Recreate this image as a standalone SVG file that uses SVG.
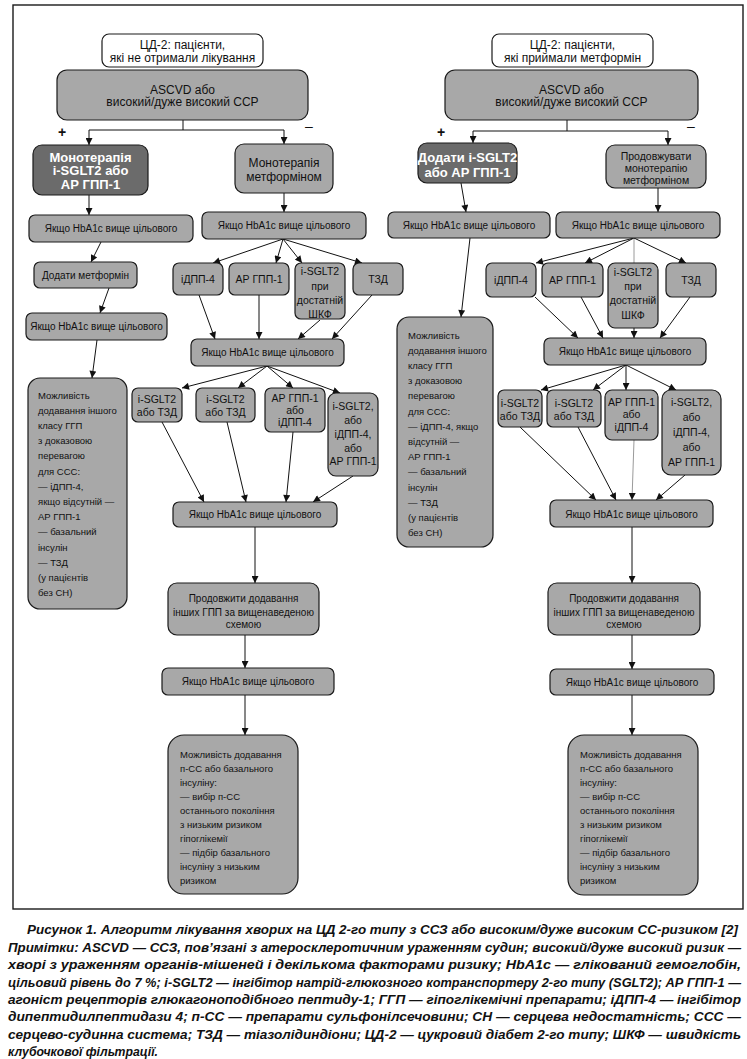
<svg xmlns="http://www.w3.org/2000/svg" width="747" height="1059" viewBox="0 0 747 1059">
<defs>
<marker id="ah" viewBox="0 0 10 10" refX="10" refY="5" markerWidth="8" markerHeight="7" markerUnits="userSpaceOnUse" orient="auto"><path d="M0,0 L10,5 L0,10 z" fill="#111"/></marker>
</defs>
<style>
.n{fill:#a8a8a8;stroke:#1a1a1a;stroke-width:1.2}
.w{fill:#fff;stroke:#1a1a1a;stroke-width:1.2}
.d{fill:#6b6b6b;stroke:#1a1a1a;stroke-width:1.2}
text{font-family:"Liberation Sans",Arial,sans-serif;fill:#111}
.t{font-size:10px;text-anchor:middle}
.s{font-size:10.5px;text-anchor:middle}
.l{font-size:12px;text-anchor:middle}
.m{font-size:10.5px;text-anchor:middle}
.b{font-size:13px;font-weight:bold;fill:#fff;text-anchor:middle}
.p{font-size:9.5px}
.c line{stroke:#111;stroke-width:1;marker-end:url(#ah)}
.c line.na{marker-end:none}
.c line.g{stroke:#9a9a9a}
.cap{font-family:"Liberation Sans Narrow","Liberation Sans",Arial,sans-serif;font-size:12px;font-weight:bold;font-style:italic}
</style>
<rect x="0" y="0" width="747" height="1059" fill="#fff"/>
<rect x="13" y="5" width="730" height="904" fill="none" stroke="#1a1a1a" stroke-width="1.4"/>

<g class="c">
<line class="na" x1="183" y1="120" x2="183" y2="130"/>
<line class="na" x1="89" y1="130" x2="284" y2="130"/>
<line x1="89" y1="130" x2="89" y2="145"/>
<line x1="284" y1="130" x2="284" y2="144"/>
<line x1="89" y1="195" x2="89" y2="215"/>
<line x1="284" y1="193" x2="284" y2="212"/>
<line x1="101" y1="242" x2="91" y2="262"/>
<line x1="109" y1="288" x2="100" y2="313"/>
<line x1="97" y1="340" x2="92" y2="378"/>
<line x1="283" y1="239" x2="213" y2="263"/>
<line x1="283" y1="239" x2="276" y2="263"/>
<line x1="283" y1="239" x2="302" y2="263"/>
<line x1="283" y1="239" x2="362" y2="263"/>
<line x1="199" y1="295" x2="215" y2="339"/>
<line x1="259" y1="295" x2="259" y2="339"/>
<line x1="320" y1="320" x2="298" y2="339"/>
<line x1="372" y1="295" x2="332" y2="339"/>
<line x1="267" y1="366" x2="182" y2="388"/>
<line x1="267" y1="366" x2="238" y2="388"/>
<line x1="267" y1="366" x2="293" y2="388"/>
<line x1="267" y1="366" x2="340" y2="393"/>
<line x1="162" y1="422" x2="204" y2="502"/>
<line x1="227" y1="422" x2="246" y2="502"/>
<line x1="293" y1="432" x2="286" y2="502"/>
<line x1="353" y1="476" x2="313" y2="502"/>
<line x1="255" y1="527" x2="255" y2="583"/>
<line x1="245" y1="635" x2="245" y2="668"/>
<line x1="245" y1="695" x2="245" y2="735"/>

<line class="na" x1="567" y1="120" x2="567" y2="131"/>
<line class="na" x1="473" y1="131" x2="668" y2="131"/>
<line x1="473" y1="131" x2="473" y2="143"/>
<line x1="668" y1="131" x2="668" y2="145"/>
<line x1="461" y1="183" x2="466" y2="212"/>
<line x1="658" y1="188" x2="658" y2="212"/>
<line x1="470" y1="238" x2="461" y2="317"/>
<line x1="634" y1="238" x2="536" y2="263"/>
<line x1="634" y1="238" x2="585" y2="263"/>
<line class="na g" x1="634" y1="238" x2="634" y2="263"/>
<line x1="634" y1="238" x2="686" y2="263"/>
<line x1="535" y1="297" x2="578" y2="338"/>
<line x1="581" y1="297" x2="603" y2="338"/>
<line x1="634" y1="328" x2="634" y2="338"/>
<line x1="690" y1="297" x2="660" y2="338"/>
<line x1="626" y1="365" x2="541" y2="390"/>
<line x1="626" y1="365" x2="593" y2="390"/>
<line x1="626" y1="365" x2="626" y2="390"/>
<line x1="626" y1="365" x2="676" y2="390"/>
<line x1="520" y1="427" x2="596" y2="500"/>
<line x1="578" y1="427" x2="616" y2="500"/>
<line class="g" x1="634" y1="440" x2="632" y2="500"/>
<line x1="685" y1="475" x2="656" y2="500"/>
<line x1="632" y1="527" x2="632" y2="583"/>
<line x1="632" y1="635" x2="632" y2="669"/>
<line x1="632" y1="695" x2="632" y2="735"/>
</g>

<g id="signs">
<text x="62" y="137" font-size="14" font-weight="bold" text-anchor="middle">+</text>
<text x="309" y="131" font-size="14" text-anchor="middle">–</text>
<text x="441" y="137" font-size="14" font-weight="bold" text-anchor="middle">+</text>
<text x="691" y="131" font-size="14" text-anchor="middle">–</text>
</g>

<!-- Left algorithm -->
<g id="L_start"><rect class="w" x="102" y="34" width="161" height="33" rx="7"/>
<text class="l" x="182.5" y="49">ЦД-2: пацієнти,</text>
<text class="l" x="182.5" y="61.5">які не отримали лікування</text></g>
<g id="L_ascvd"><rect class="n" x="57" y="70" width="251" height="50" rx="10"/>
<text class="l" x="182.5" y="94">ASCVD або</text>
<text class="l" x="182.5" y="106">високий/дуже високий ССР</text></g>
<g id="L_mono"><rect class="d" x="33" y="145" width="115" height="50" rx="9"/>
<text class="b" x="90.5" y="161.5">Монотерапія</text>
<text class="b" x="90.5" y="175">i-SGLT2 або</text>
<text class="b" x="90.5" y="188.5">АР ГПП-1</text></g>
<g id="L_metf"><rect class="n" x="235" y="144" width="98" height="49" rx="9"/>
<text class="l" x="284" y="167">Монотерапія</text>
<text class="l" x="284" y="180.5">метформіном</text></g>
<g id="L_y1"><rect class="n" x="29" y="215" width="164" height="27" rx="6"/>
<text class="t" x="111" y="232">Якщо HbA1c вище цільового</text></g>
<g id="L_y2"><rect class="n" x="202" y="212" width="164" height="27" rx="6"/>
<text class="t" x="284" y="229">Якщо HbA1c вище цільового</text></g>
<g id="L_addm"><rect class="n" x="34" y="262" width="103" height="26" rx="6"/>
<text class="t" x="85.5" y="279">Додати метформін</text></g>
<g id="L_y3"><rect class="n" x="26" y="313" width="141" height="27" rx="6"/>
<text class="t" x="96.5" y="330">Якщо HbA1c вище цільового</text></g>
<g id="L_poss1"><rect class="n" x="28" y="378" width="99" height="231" rx="12"/>
<text class="p" x="38" y="398.5">Можливість</text>
<text class="p" x="38" y="413.7">додавання іншого</text>
<text class="p" x="38" y="428.9">класу ГГП</text>
<text class="p" x="38" y="444.1">з доказовою</text>
<text class="p" x="38" y="459.3">перевагою</text>
<text class="p" x="38" y="474.5">для ССС:</text>
<text class="p" x="38" y="489.7">— іДПП-4,</text>
<text class="p" x="38" y="504.9">якщо відсутній —</text>
<text class="p" x="38" y="520.1">АР ГПП-1</text>
<text class="p" x="38" y="535.3">— базальний</text>
<text class="p" x="38" y="550.5">інсулін</text>
<text class="p" x="38" y="565.7">— ТЗД</text>
<text class="p" x="38" y="580.9">(у пацієнтів</text>
<text class="p" x="38" y="596.1">без СН)</text></g>
<g id="L_dpp"><rect class="n" x="173" y="263" width="50" height="32" rx="6"/>
<text class="s" x="198" y="283">іДПП-4</text></g>
<g id="L_glp"><rect class="n" x="229" y="263" width="60" height="32" rx="6"/>
<text class="s" x="259" y="283">АР ГПП-1</text></g>
<g id="L_sglt"><rect class="n" x="295" y="263" width="50" height="56" rx="6"/>
<text class="s" x="320" y="275">i-SGLT2</text>
<text class="s" x="320" y="289.5">при</text>
<text class="s" x="320" y="303.5">достатній</text>
<text class="s" x="320" y="318">ШКФ</text></g>
<g id="L_tzd"><rect class="n" x="353" y="263" width="50" height="32" rx="6"/>
<text class="s" x="378" y="283">ТЗД</text></g>
<g id="L_y4"><rect class="n" x="191" y="339" width="153" height="27" rx="6"/>
<text class="t" x="267.5" y="356">Якщо HbA1c вище цільового</text></g>
<g id="L_b1"><rect class="n" x="132" y="388" width="50" height="34" rx="6"/>
<text class="s" x="157" y="402.5">i-SGLT2</text>
<text class="s" x="157" y="415.5">або ТЗД</text></g>
<g id="L_b2"><rect class="n" x="196" y="388" width="59" height="34" rx="6"/>
<text class="s" x="225.5" y="402.5">i-SGLT2</text>
<text class="s" x="225.5" y="415.5">або ТЗД</text></g>
<g id="L_b3"><rect class="n" x="265" y="388" width="60" height="44" rx="6"/>
<text class="s" x="295" y="401.5">АР ГПП-1</text>
<text class="s" x="295" y="413.5">або</text>
<text class="s" x="295" y="425.5">іДПП-4</text></g>
<g id="L_b4"><rect class="n" x="328" y="393" width="50" height="83" rx="8"/>
<text class="s" x="353" y="410">i-SGLT2,</text>
<text class="s" x="353" y="424">або</text>
<text class="s" x="353" y="438">іДПП-4,</text>
<text class="s" x="353" y="451.5">або</text>
<text class="s" x="353" y="465">АР ГПП-1</text></g>
<g id="L_y5"><rect class="n" x="173" y="502" width="164" height="25" rx="6"/>
<text class="t" x="255" y="518">Якщо HbA1c вище цільового</text></g>
<g id="L_cont"><rect class="n" x="168" y="583" width="151" height="52" rx="9"/>
<text class="t" x="243.5" y="602">Продовжити додавання</text>
<text class="t" x="243.5" y="615.5">інших ГПП за вищенаведеною</text>
<text class="t" x="243.5" y="628">схемою</text></g>
<g id="L_y6"><rect class="n" x="162" y="668" width="172" height="27" rx="6"/>
<text class="t" x="248" y="685">Якщо HbA1c вище цільового</text></g>
<g id="L_final"><rect class="n" x="168" y="735" width="130" height="159" rx="16"/>
<text class="p" x="180" y="757.5">Можливість додавання</text>
<text class="p" x="180" y="771.5">п-СС або базального</text>
<text class="p" x="180" y="785.5">інсуліну:</text>
<text class="p" x="180" y="799.5">— вибір п-СС</text>
<text class="p" x="180" y="813.5">останнього покоління</text>
<text class="p" x="180" y="827.5">з низьким ризиком</text>
<text class="p" x="180" y="841.5">гіпоглікемії</text>
<text class="p" x="180" y="855.5">— підбір базального</text>
<text class="p" x="180" y="869.5">інсуліну з низьким</text>
<text class="p" x="180" y="883.5">ризиком</text></g>

<!-- Right algorithm -->
<g id="R_start"><rect class="w" x="492" y="34" width="161" height="33" rx="7"/>
<text class="l" x="572.5" y="49">ЦД-2: пацієнти,</text>
<text class="l" x="572.5" y="61.5">які приймали метформін</text></g>
<g id="R_ascvd"><rect class="n" x="445" y="70" width="253" height="50" rx="10"/>
<text class="l" x="571.5" y="94">ASCVD або</text>
<text class="l" x="571.5" y="106">високий/дуже високий ССР</text></g>
<g id="R_add"><rect class="d" x="418" y="143" width="99" height="40" rx="9"/>
<text class="b" x="467.5" y="161.5">Додати i-SGLT2</text>
<text class="b" x="467.5" y="176.5">або АР ГПП-1</text></g>
<g id="R_cont"><rect class="n" x="606" y="145" width="100" height="43" rx="9"/>
<text class="m" x="656" y="159.5">Продовжувати</text>
<text class="m" x="656" y="171.5">монотерапію</text>
<text class="m" x="656" y="183.5">метформіном</text></g>
<g id="R_y1"><rect class="n" x="388" y="212" width="162" height="26" rx="6"/>
<text class="t" x="469" y="229">Якщо HbA1c вище цільового</text></g>
<g id="R_y2"><rect class="n" x="556" y="212" width="164" height="26" rx="6"/>
<text class="t" x="638" y="229">Якщо HbA1c вище цільового</text></g>
<g id="R_poss"><rect class="n" x="397" y="317" width="96" height="230" rx="12"/>
<text class="p" x="408" y="338.5">Можливість</text>
<text class="p" x="408" y="353.7">додавання іншого</text>
<text class="p" x="408" y="368.9">класу ГГП</text>
<text class="p" x="408" y="384.1">з доказовою</text>
<text class="p" x="408" y="399.3">перевагою</text>
<text class="p" x="408" y="414.5">для ССС:</text>
<text class="p" x="408" y="429.7">— іДПП-4, якщо</text>
<text class="p" x="408" y="444.9">відсутній —</text>
<text class="p" x="408" y="460.1">АР ГПП-1</text>
<text class="p" x="408" y="475.3">— базальний</text>
<text class="p" x="408" y="490.5">інсулін</text>
<text class="p" x="408" y="505.7">— ТЗД</text>
<text class="p" x="408" y="520.9">(у пацієнтів</text>
<text class="p" x="408" y="536.1">без СН)</text></g>
<g id="R_dpp"><rect class="n" x="486" y="263" width="50" height="34" rx="6"/>
<text class="s" x="511" y="284">іДПП-4</text></g>
<g id="R_glp"><rect class="n" x="542" y="263" width="61" height="34" rx="6"/>
<text class="s" x="572.5" y="284">АР ГПП-1</text></g>
<g id="R_sglt"><rect class="n" x="608" y="263" width="50" height="65" rx="7"/>
<text class="s" x="633" y="276">i-SGLT2</text>
<text class="s" x="633" y="290">при</text>
<text class="s" x="633" y="304">достатній</text>
<text class="s" x="633" y="318.5">ШКФ</text></g>
<g id="R_tzd"><rect class="n" x="666" y="263" width="50" height="34" rx="6"/>
<text class="s" x="691" y="284">ТЗД</text></g>
<g id="R_y3"><rect class="n" x="544" y="338" width="162" height="27" rx="6"/>
<text class="t" x="625" y="355">Якщо HbA1c вище цільового</text></g>
<g id="R_b1"><rect class="n" x="498" y="390" width="44" height="37" rx="6"/>
<text class="s" x="520" y="406.5">i-SGLT2</text>
<text class="s" x="520" y="420">або ТЗД</text></g>
<g id="R_b2"><rect class="n" x="547" y="390" width="54" height="37" rx="6"/>
<text class="s" x="574" y="406.5">i-SGLT2</text>
<text class="s" x="574" y="420">або ТЗД</text></g>
<g id="R_b3"><rect class="n" x="605" y="390" width="53" height="50" rx="7"/>
<text class="s" x="631.5" y="405.5">АР ГПП-1</text>
<text class="s" x="631.5" y="418">або</text>
<text class="s" x="631.5" y="430.5">іДПП-4</text></g>
<g id="R_b4"><rect class="n" x="662" y="390" width="59" height="85" rx="9"/>
<text class="s" x="691.5" y="405.5">i-SGLT2,</text>
<text class="s" x="691.5" y="420.5">або</text>
<text class="s" x="691.5" y="435.5">іДПП-4,</text>
<text class="s" x="691.5" y="450.5">або</text>
<text class="s" x="691.5" y="465.5">АР ГПП-1</text></g>
<g id="R_y4"><rect class="n" x="550" y="500" width="163" height="27" rx="6"/>
<text class="t" x="631.5" y="518">Якщо HbA1c вище цільового</text></g>
<g id="R_cont2"><rect class="n" x="548" y="583" width="152" height="52" rx="9"/>
<text class="t" x="624" y="602">Продовжити додавання</text>
<text class="t" x="624" y="615.5">інших ГПП за вищенаведеною</text>
<text class="t" x="624" y="628">схемою</text></g>
<g id="R_y5"><rect class="n" x="550" y="669" width="164" height="26" rx="6"/>
<text class="t" x="632" y="685.5">Якщо HbA1c вище цільового</text></g>
<g id="R_final"><rect class="n" x="568" y="735" width="130" height="160" rx="16"/>
<text class="p" x="580" y="757.5">Можливість додавання</text>
<text class="p" x="580" y="771.5">п-СС або базального</text>
<text class="p" x="580" y="785.5">інсуліну:</text>
<text class="p" x="580" y="799.5">— вибір п-СС</text>
<text class="p" x="580" y="813.5">останнього покоління</text>
<text class="p" x="580" y="827.5">з низьким ризиком</text>
<text class="p" x="580" y="841.5">гіпоглікемії</text>
<text class="p" x="580" y="855.5">— підбір базального</text>
<text class="p" x="580" y="869.5">інсуліну з низьким</text>
<text class="p" x="580" y="883.5">ризиком</text></g>

<g id="caption">
<text class="cap" x="27" y="934" textLength="711" lengthAdjust="spacingAndGlyphs">Рисунок 1. Алгоритм лікування хворих на ЦД 2-го типу з ССЗ або високим/дуже високим СС-ризиком [2]</text>
<text class="cap" x="8" y="952" textLength="733" lengthAdjust="spacingAndGlyphs">Примітки: ASCVD — ССЗ, пов’язані з атеросклеротичним ураженням судин; високий/дуже високий ризик —</text>
<text class="cap" x="8" y="969.3" textLength="733" lengthAdjust="spacingAndGlyphs">хворі з ураженням органів-мішеней і декількома факторами ризику; HbA1c — глікований гемоглобін,</text>
<text class="cap" x="8" y="986.6" textLength="733" lengthAdjust="spacingAndGlyphs">цільовий рівень до 7 %; i-SGLT2 — інгібітор натрій-глюкозного котранспортеру 2-го типу (SGLT2); АР ГПП-1 —</text>
<text class="cap" x="8" y="1003.9" textLength="733" lengthAdjust="spacingAndGlyphs">агоніст рецепторів глюкагоноподібного пептиду-1; ГГП — гіпоглікемічні препарати; іДПП-4 — інгібітор</text>
<text class="cap" x="8" y="1021.2" textLength="733" lengthAdjust="spacingAndGlyphs">дипептидилпептидази 4; п-СС — препарати сульфонілсечовини; СН — серцева недостатність; ССС —</text>
<text class="cap" x="8" y="1038.5" textLength="733" lengthAdjust="spacingAndGlyphs">серцево-судинна система; ТЗД — тіазолідиндіони; ЦД-2 — цукровий діабет 2-го типу; ШКФ — швидкість</text>
<text class="cap" x="8" y="1055.8" textLength="150" lengthAdjust="spacingAndGlyphs">клубочкової фільтрації.</text>
</g>
</svg>
